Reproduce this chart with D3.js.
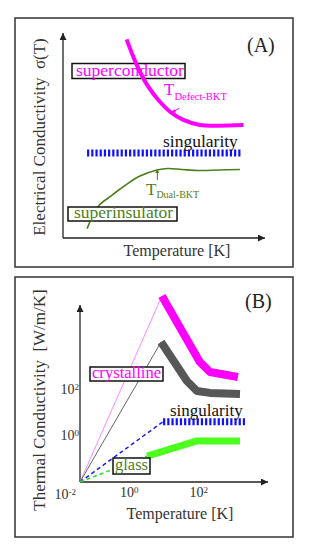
<!DOCTYPE html>
<html>
<head>
<meta charset="utf-8">
<script src="https://cdn.jsdelivr.net/npm/d3@7"></script>
<style>
  body { margin: 0; background: #fff; }
  text { font-family: "Liberation Serif", "Times New Roman", serif; }
</style>
</head>
<body>
<script>
// ---- panel A: schematic, unitless 0..10 on both axes
const superX = [3.15, 3.48, 3.81, 4.22, 4.72, 5.30, 5.96, 6.78, 7.61, 8.93];
const superY = [9.69, 8.84, 8.11, 7.38, 6.73, 6.16, 5.76, 5.51, 5.48, 5.51];
const insulX = [1.19, 1.49, 1.78, 2.33, 3.07, 3.81, 4.65, 5.20, 5.89, 6.78, 7.77, 8.76];
const insulY = [0.46, 1.12, 1.59, 2.02, 2.56, 3.02, 3.32, 3.39, 3.34, 3.29, 3.32, 3.34];
const singAX = [1.19, 8.81];
const singAY = 4.15;

// ---- panel B: log-log, T in K, kappa in W/m/K
const origin = [0.04, 0.01];
const crystT = [9, 110, 215, 1370];
const crystK = [9.8e5, 1430, 530, 325];
const grayT = [8.5, 47, 91, 216, 1570];
const grayK = [10300, 218, 81, 67, 60];
const glassT = [3.4, 91, 1570];
const glassK = [0.13, 0.58, 0.58];
const singBT = [9.7, 2180];
const singBK = 3.9;
const xTicks = [1, 100];
const yTicks = [0.01, 1, 100];

const magenta = "#ff00ff", olive = "#4d7f1d", axisCol = "#222";

const svg = d3.select("body").append("svg")
    .attr("width", 311)
    .attr("height", 545);

const defs = svg.append("defs");
function arrowHead(id, col, w, l) {
  defs.append("marker")
      .attr("id", id)
      .attr("viewBox", "0 0 10 10")
      .attr("refX", 10).attr("refY", 5)
      .attr("markerUnits", "userSpaceOnUse")
      .attr("markerWidth", l).attr("markerHeight", w)
      .attr("orient", "auto")
    .append("path")
      .attr("d", "M0,0L10,5L0,10Z")
      .attr("fill", col);
}
arrowHead("axArrow", axisCol, 7, 8);
arrowHead("magArrow", magenta, 4, 5);
arrowHead("oliveArrow", olive, 4, 5);

// frames
svg.append("rect").attr("x", 15).attr("y", 18).attr("width", 278).attr("height", 249)
   .attr("fill", "none").attr("stroke", "#333").attr("stroke-width", 1.5);
svg.append("rect").attr("x", 15).attr("y", 277).attr("width", 278).attr("height", 260)
   .attr("fill", "none").attr("stroke", "#333").attr("stroke-width", 1.5);

function boxLabel(g, x, y, w, h, tx, ty, txt, col, size) {
  g.append("rect").attr("x", x).attr("y", y).attr("width", w).attr("height", h)
   .attr("fill", "#fff").attr("stroke", "#111").attr("stroke-width", 1.5);
  g.append("text").attr("x", tx).attr("y", ty).attr("fill", col)
   .attr("font-size", size).text(txt);
}

// ===================== Panel A =====================
const xA = d3.scaleLinear().domain([0, 10]).range([63, 265]);
const yA = d3.scaleLinear().domain([0, 10]).range([238, 33]);
const gA = svg.append("g");

gA.append("line").attr("x1", xA(0)).attr("y1", yA(0)).attr("x2", xA(0)).attr("y2", yA(10))
  .attr("stroke", axisCol).attr("stroke-width", 1.3).attr("marker-end", "url(#axArrow)");
gA.append("line").attr("x1", xA(0)).attr("y1", yA(0)).attr("x2", xA(10)).attr("y2", yA(0))
  .attr("stroke", axisCol).attr("stroke-width", 1.3).attr("marker-end", "url(#axArrow)");

const lineA = d3.line().x(d => xA(d[0])).y(d => yA(d[1])).curve(d3.curveCatmullRom);

gA.append("path").datum(d3.zip(insulX, insulY)).attr("d", lineA)
  .attr("fill", "none").attr("stroke", olive).attr("stroke-width", 1.6);

boxLabel(gA, 68, 207, 109, 14, 74, 218, "superinsulator", olive, 17.5);

gA.append("line")
  .attr("x1", xA(singAX[0])).attr("x2", xA(singAX[1]))
  .attr("y1", yA(singAY)).attr("y2", yA(singAY))
  .attr("stroke", "#1010ff").attr("stroke-width", 7).attr("stroke-dasharray", "2.2,2");

boxLabel(gA, 72, 63.5, 113, 15, 76, 75.5, "superconductor", magenta, 17.5);

gA.append("path").datum(d3.zip(superX, superY)).attr("d", lineA)
  .attr("fill", "none").attr("stroke", magenta).attr("stroke-width", 4);

gA.append("text").attr("x", 163).attr("y", 147).attr("font-size", 17.5).attr("fill", "#111")
  .text("singularity");

// annotation: T Defect-BKT
const tDef = gA.append("text").attr("x", 164).attr("y", 95).attr("fill", magenta).attr("font-size", 17);
tDef.append("tspan").text("T");
tDef.append("tspan").attr("dy", 5).attr("font-size", 10.5).text("Defect-BKT");
gA.append("line").attr("x1", xA(5.76)).attr("y1", yA(6.33)).attr("x2", xA(5.38)).attr("y2", yA(6.11))
  .attr("stroke", magenta).attr("stroke-width", 1).attr("marker-end", "url(#magArrow)");

// annotation: T Dual-BKT
const tDual = gA.append("text").attr("x", 146).attr("y", 195).attr("fill", olive).attr("font-size", 17);
tDual.append("tspan").text("T");
tDual.append("tspan").attr("dy", 3).attr("font-size", 10).text("Dual-BKT");
gA.append("line").attr("x1", xA(4.67)).attr("y1", yA(2.83)).attr("x2", xA(4.67)).attr("y2", yA(3.36))
  .attr("stroke", olive).attr("stroke-width", 1).attr("marker-end", "url(#oliveArrow)");

gA.append("text").attr("x", 247).attr("y", 52).attr("font-size", 20).attr("fill", "#222").text("(A)");
gA.append("text").attr("x", 177).attr("y", 256).attr("text-anchor", "middle")
  .attr("font-size", 16).attr("fill", "#333").text("Temperature [K]");
gA.append("text").attr("transform", "translate(45,137) rotate(-90)").attr("text-anchor", "middle")
  .attr("font-size", 17).attr("fill", "#333").attr("xml:space", "preserve")
  .text("Electrical Conductivity  σ(T)");

// ===================== Panel B =====================
const xB = d3.scaleLog().domain([0.04, 1e4]).range([80, 268]);
const yB = d3.scaleLog().domain([0.01, 4e5]).range([482, 305]);
const gB = svg.append("g");

function supLabels(sel) {
  sel.attr("font-family", null).attr("font-size", 14);
  sel.select(".domain").remove();
  sel.selectAll(".tick text").attr("fill", "#333").each(function(d) {
    const t = d3.select(this);
    t.text(null);
    t.append("tspan").text("10");
    t.append("tspan").attr("dy", "-0.45em").attr("font-size", 9).text(Math.round(Math.log10(d)));
  });
}

gB.append("g").attr("transform", `translate(0,${yB(origin[1])})`)
  .call(d3.axisBottom(xB).tickValues(xTicks).tickSize(0).tickPadding(5))
  .call(supLabels);

const yAx = gB.append("g").attr("transform", `translate(${xB(origin[0])},0)`)
  .call(d3.axisLeft(yB).tickValues(yTicks).tickSize(0).tickPadding(1))
  .call(supLabels);
yAx.selectAll(".tick text").filter(d => d === 0.01).attr("dy", "1.15em").attr("x", -4);

gB.append("line").attr("x1", xB(origin[0])).attr("y1", yB(origin[1]))
  .attr("x2", xB(origin[0])).attr("y2", yB(4e5))
  .attr("stroke", axisCol).attr("stroke-width", 1.3).attr("marker-end", "url(#axArrow)");
gB.append("line").attr("x1", xB(origin[0])).attr("y1", yB(origin[1]))
  .attr("x2", xB(1e4)).attr("y2", yB(origin[1]))
  .attr("stroke", axisCol).attr("stroke-width", 1.3).attr("marker-end", "url(#axArrow)");

const lineB = d3.line().x(d => xB(d[0])).y(d => yB(d[1]));

// thin guide lines from origin
const guides = [
  [crystT[0], crystK[0], "#ff88ff", 1, null],
  [grayT[0], grayK[0], "#666", 1, null],
  [singBT[0], singBK, "#1a1aff", 1.5, "4,3"],
  [glassT[0], glassK[0], "#33dd33", 1.5, "4,3"]
];
guides.forEach(g => {
  gB.append("path").datum([origin, [g[0], g[1]]]).attr("d", lineB)
    .attr("fill", "none").attr("stroke", g[2]).attr("stroke-width", g[3])
    .attr("stroke-dasharray", g[4]);
});

gB.append("path").datum(d3.zip(crystT, crystK)).attr("d", lineB)
  .attr("fill", "none").attr("stroke", magenta).attr("stroke-width", 8).attr("stroke-linejoin", "round");
gB.append("path").datum(d3.zip(grayT, grayK)).attr("d", lineB)
  .attr("fill", "none").attr("stroke", "#575757").attr("stroke-width", 8).attr("stroke-linejoin", "round");
gB.append("path").datum(d3.zip(glassT, glassK)).attr("d", lineB)
  .attr("fill", "none").attr("stroke", "#4cff1f").attr("stroke-width", 7).attr("stroke-linejoin", "round");
gB.append("path").datum(singBT.map(t => [t, singBK])).attr("d", lineB)
  .attr("fill", "none").attr("stroke", "#1010ff").attr("stroke-width", 7).attr("stroke-dasharray", "2.2,2");

boxLabel(gB, 90, 367, 73, 14, 92, 377.5, "crystalline", magenta, 16.6);
boxLabel(gB, 113, 458, 37, 16, 115, 470, "glass", olive, 16.5);

gB.append("text").attr("x", 170).attr("y", 416).attr("font-size", 17).attr("fill", "#111").text("singularity");
gB.append("text").attr("x", 245).attr("y", 308).attr("font-size", 20).attr("fill", "#222").text("(B)");
gB.append("text").attr("x", 180).attr("y", 519).attr("text-anchor", "middle")
  .attr("font-size", 16).attr("fill", "#333").text("Temperature [K]");
gB.append("text").attr("transform", "translate(45,400) rotate(-90)").attr("text-anchor", "middle")
  .attr("font-size", 17).attr("fill", "#333").attr("xml:space", "preserve")
  .text("Thermal Conductivity  [W/m/K]");
</script>
</body>
</html>
